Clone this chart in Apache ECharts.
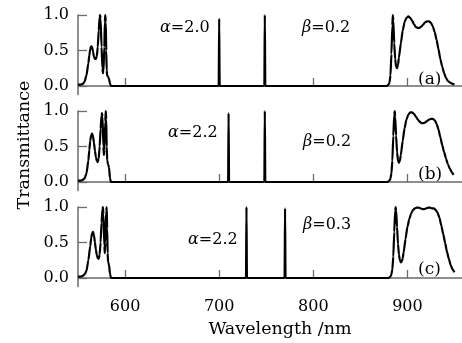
<!DOCTYPE html>
<html>
<head>
<meta charset="utf-8">
<script src="https://cdn.jsdelivr.net/npm/echarts@6/dist/echarts.min.js"></script>
<style>
  html, body { margin: 0; padding: 0; background: #fff; }
  #chart { width: 462px; height: 343px; }
</style>
</head>
<body>
<div id="chart"></div>
<script>
// Tick positions
const xTicks = [600, 700, 800, 900];
const yTicks = [0, 0.5, 1.0];

// Panel captions
const panelTags = ['(a)', '(b)', '(c)'];
const alphaVals = ['2.0', '2.2', '2.2'];
const betaVals = ['0.2', '0.2', '0.3'];

// Transmittance spectra, [wavelength nm, T]
const specA = [
  [550, 0.02], [553, 0.02], [555, 0.03], [557, 0.06], [559, 0.15], [561, 0.32], [562, 0.43],
  [563, 0.52], [564, 0.56], [565, 0.55], [566, 0.48], [567, 0.41], [568, 0.38], [569, 0.38],
  [570, 0.42], [571, 0.55], [572, 0.78], [573, 0.97], [573.5, 1.0], [574, 0.95], [575, 0.55],
  [576, 0.25], [576.5, 0.18], [577, 0.2], [578, 0.55], [578.5, 0.9], [579, 1.0], [579.5, 0.9],
  [580, 0.5], [580.5, 0.22], [581, 0.15], [582, 0.13], [583, 0.1], [584, 0.03], [585, 0.0],
  [600, 0], [699.5, 0], [700, 0.95], [700.5, 0], [748, 0], [748.5, 1.0], [749, 0], [878, 0],
  [880, 0.02], [881, 0.05], [882, 0.15], [883, 0.45], [884, 0.85], [884.5, 1.0], [885, 0.92],
  [886, 0.6], [887, 0.38], [888, 0.27], [889, 0.25], [890, 0.3], [891, 0.4], [893, 0.6],
  [895, 0.78], [897, 0.9], [899, 0.96], [901, 0.98], [903, 0.96], [905, 0.92], [907, 0.87],
  [909, 0.83], [911, 0.82], [913, 0.82], [915, 0.84], [917, 0.87], [919, 0.9], [921, 0.91],
  [923, 0.91], [925, 0.89], [927, 0.84], [929, 0.76], [931, 0.65], [933, 0.52], [935, 0.38],
  [937, 0.27], [939, 0.18], [941, 0.11], [943, 0.07], [945, 0.05], [948, 0.03], [950, 0.02]
];
const specB = [
  [550, 0.02], [553, 0.02], [555, 0.03], [557, 0.05], [559, 0.12], [561, 0.3], [562, 0.45],
  [563, 0.58], [564, 0.66], [565, 0.68], [566, 0.64], [567, 0.55], [568, 0.44], [569, 0.35],
  [570, 0.3], [571, 0.28], [572, 0.33], [573, 0.5], [574, 0.75], [575, 0.93], [575.5, 0.97],
  [576, 0.92], [577, 0.5], [577.5, 0.38], [578, 0.45], [579, 0.85], [579.5, 1.0], [580, 0.88],
  [580.5, 0.5], [581, 0.3], [582, 0.25], [583, 0.2], [584, 0.05], [585, 0.0],
  [600, 0], [709.5, 0], [710, 0.97], [710.5, 0], [748, 0], [748.5, 1.0], [749, 0], [879, 0],
  [881, 0.02], [882, 0.05], [883, 0.12], [884, 0.3], [885, 0.65], [886, 0.95], [886.5, 1.0],
  [887, 0.92], [888, 0.65], [889, 0.42], [890, 0.3], [891, 0.27], [892, 0.3], [893, 0.38],
  [895, 0.58], [897, 0.76], [899, 0.88], [901, 0.95], [903, 0.98], [905, 0.98], [907, 0.96],
  [909, 0.92], [911, 0.88], [913, 0.85], [915, 0.83], [917, 0.83], [919, 0.84], [921, 0.86],
  [923, 0.88], [925, 0.89], [927, 0.89], [929, 0.87], [931, 0.82], [933, 0.74], [935, 0.63],
  [937, 0.52], [939, 0.42], [941, 0.33], [943, 0.25], [945, 0.19], [947, 0.14], [949, 0.1]
];
const specC = [
  [550, 0.02], [553, 0.02], [555, 0.03], [557, 0.05], [559, 0.1], [561, 0.25], [563, 0.45],
  [564, 0.56], [565, 0.63], [566, 0.65], [567, 0.6], [568, 0.5], [569, 0.4], [570, 0.32],
  [571, 0.28], [572, 0.27], [573, 0.33], [574, 0.5], [575, 0.78], [576, 0.97], [576.5, 1.0],
  [577, 0.9], [578, 0.45], [578.5, 0.35], [579, 0.5], [580, 0.95], [580.5, 1.0], [581, 0.7],
  [581.5, 0.35], [582, 0.22], [583, 0.18], [584, 0.06], [585, 0],
  [600, 0], [728.5, 0], [729, 1.0], [729.5, 0], [769.5, 0], [770, 0.98], [770.5, 0], [880, 0],
  [882, 0.02], [883, 0.05], [884, 0.12], [885, 0.3], [886, 0.65], [887, 0.95], [887.5, 1.0],
  [888, 0.95], [889, 0.72], [890, 0.48], [891, 0.33], [892, 0.25], [893, 0.22], [894, 0.23],
  [895, 0.28], [896, 0.36], [898, 0.55], [900, 0.72], [902, 0.83], [904, 0.91], [906, 0.96],
  [908, 0.98], [910, 0.99], [912, 0.99], [914, 0.98], [916, 0.97], [918, 0.97], [920, 0.98],
  [922, 0.99], [924, 0.99], [926, 0.98], [928, 0.98], [930, 0.96], [932, 0.92], [934, 0.85],
  [936, 0.74], [938, 0.62], [940, 0.5], [942, 0.37], [944, 0.27], [946, 0.18], [948, 0.12],
  [950, 0.08]
];
const spectra = [specA, specB, specC];

const SERIF = '"DejaVu Serif", "Liberation Serif", serif';
const AXIS_GRAY = '#6a6a6a';
const panelTops = [15, 111, 207];
const panelHeight = 79.5;

const grids = panelTops.map(t => ({ left: 78, right: 0, top: t, height: panelHeight }));

const xAxes = panelTops.map((t, i) => ({
  type: 'value', gridIndex: i, min: 550, max: 958,
  axisLine: { show: true, lineStyle: { color: AXIS_GRAY, width: 1.5 } },
  axisTick: { show: true, inside: true, length: 8, customValues: xTicks,
              lineStyle: { color: AXIS_GRAY, width: 1.3 } },
  axisLabel: { show: i === 2, customValues: xTicks, margin: 12,
               fontFamily: SERIF, fontSize: 16, color: '#000' },
  splitLine: { show: false }
}));

const yAxes = panelTops.map((t, i) => ({
  type: 'value', gridIndex: i, min: -0.12, max: 1.0,
  axisLine: { show: true, onZero: false, lineStyle: { color: AXIS_GRAY, width: 1.5 } },
  axisTick: { show: true, inside: true, length: 9, customValues: yTicks,
              lineStyle: { color: AXIS_GRAY, width: 1.3 } },
  axisLabel: { show: true, customValues: yTicks, margin: 9,
               fontFamily: SERIF, fontSize: 16, color: '#000',
               formatter: v => v.toFixed(1) },
  splitLine: { show: false }
}));

const series = spectra.map((d, i) => ({
  type: 'line', xAxisIndex: i, yAxisIndex: i, data: d,
  showSymbol: false, clip: false, smooth: 0.2, smoothMonotone: 'x',
  lineStyle: { color: '#000', width: 2.2 }, animation: false
}));

// Captions placed per panel
const alphaPos = [[160, 28], [168, 133], [188, 240]];
const betaPos = [[302, 28], [303, 142], [303, 225]];
const tagPos = [[418, 80], [418, 175], [418, 270]];

const greekStyle = { fontStyle: 'italic', fontFamily: SERIF, fontSize: 16, fill: '#000' };
const graphic = [];
for (let i = 0; i < 3; i++) {
  graphic.push({
    type: 'text', x: alphaPos[i][0], y: alphaPos[i][1],
    style: { text: '{g|α}=' + alphaVals[i], verticalAlign: 'middle', fill: '#000',
             font: '16px ' + SERIF, rich: { g: greekStyle } }
  });
  graphic.push({
    type: 'text', x: betaPos[i][0], y: betaPos[i][1],
    style: { text: '{g|β}=' + betaVals[i], verticalAlign: 'middle', fill: '#000',
             font: '16px ' + SERIF, rich: { g: greekStyle } }
  });
  graphic.push({
    type: 'text', x: tagPos[i][0], y: tagPos[i][1],
    style: { text: panelTags[i], verticalAlign: 'middle', fill: '#000', font: '17px ' + SERIF }
  });
}
graphic.push({
  type: 'text', x: 280, y: 329,
  style: { text: 'Wavelength /nm', align: 'center', verticalAlign: 'middle',
           fill: '#000', font: '17.5px ' + SERIF }
});
graphic.push({
  type: 'text', x: 24, y: 145, rotation: Math.PI / 2,
  style: { text: 'Transmittance', align: 'center', verticalAlign: 'middle',
           fill: '#000', font: '17.5px ' + SERIF }
});

const chart = echarts.init(document.getElementById('chart'), null, { renderer: 'canvas' });
chart.setOption({
  backgroundColor: '#fff',
  animation: false,
  grid: grids,
  xAxis: xAxes,
  yAxis: yAxes,
  series: series,
  graphic: graphic
});
</script>
</body>
</html>
